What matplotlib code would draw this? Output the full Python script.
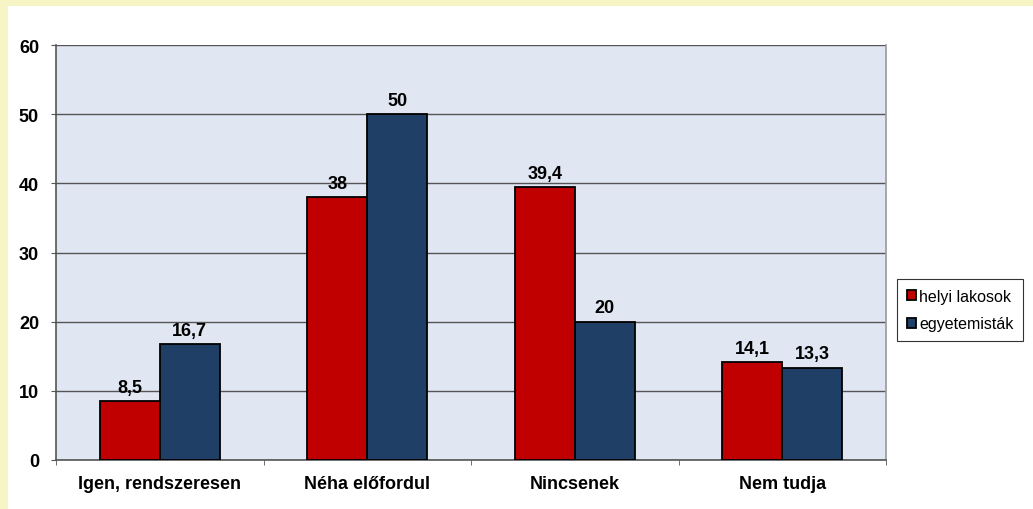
import numpy as np
import matplotlib.pyplot as plt
from matplotlib.patches import Rectangle

categories = ["Igen, rendszeresen", "Néha előfordul", "Nincsenek", "Nem tudja"]
helyi = [8.5, 38, 39.4, 14.1]
egyetem = [16.7, 50, 20, 13.3]
helyi_labels = ["8,5", "38", "39,4", "14,1"]
egyetem_labels = ["16,7", "50", "20", "13,3"]
series_names = ["helyi lakosok", "egyetemisták"]

plt.rcParams['font.family'] = ['Liberation Sans', 'DejaVu Sans']

fig = plt.figure(figsize=(10.33, 5.10), dpi=100)
# sárgás keret fent és balra
fig.patches.append(Rectangle((0, 0), 1, 1, transform=fig.transFigure,
                             facecolor="#F7F4C6", edgecolor="none", zorder=-2))
fig.patches.append(Rectangle((8 / 1033, 0), 1, 1 - 7 / 510, transform=fig.transFigure,
                             facecolor="white", edgecolor="none", zorder=-1))

ax = fig.add_axes([56 / 1033, 1 - 461 / 510, 830 / 1033, 415 / 510])
ax.set_facecolor("#E0E6F2")

x = np.arange(len(categories))
w = 0.29
red = "#C00000"
blue = "#1F3F66"
fs = 13
b1 = ax.bar(x - w / 2, helyi, w, color=red, edgecolor="black", linewidth=1.3,
            label=series_names[0], zorder=3)
b2 = ax.bar(x + w / 2, egyetem, w, color=blue, edgecolor="black", linewidth=1.3,
            label=series_names[1], zorder=3)

for rect, lab in zip(b1, helyi_labels):
    ax.annotate(lab, (rect.get_x() + rect.get_width() / 2, rect.get_height()),
                xytext=(0, 4), textcoords="offset points", ha="center", va="bottom",
                fontsize=fs, fontweight="bold")
for rect, lab in zip(b2, egyetem_labels):
    ax.annotate(lab, (rect.get_x() + rect.get_width() / 2, rect.get_height()),
                xytext=(0, 4), textcoords="offset points", ha="center", va="bottom",
                fontsize=fs, fontweight="bold")

ax.set_xlim(-0.5, len(categories) - 0.5)
ax.set_ylim(0, 60)
ax.set_yticks(range(0, 61, 10))
ax.yaxis.grid(True, color="#555555", linewidth=1.0, zorder=0)
ax.set_axisbelow(True)

ax.set_xticks(x)
ax.set_xticklabels(categories, fontsize=fs, fontweight="bold")
ax.tick_params(axis="x", length=0, pad=11)
ax.set_xticks(np.arange(-0.5, len(categories), 1), minor=True)
ax.tick_params(axis="x", which="minor", length=3.6, color="#555555")
ax.tick_params(axis="y", length=3.6, color="#555555", pad=8.6)
for t in ax.get_yticklabels():
    t.set_fontsize(fs)
    t.set_fontweight("bold")

for s in ["left", "bottom"]:
    ax.spines[s].set_color("#555555")
    ax.spines[s].set_linewidth(1.2)
ax.spines["right"].set_color("#999999")
ax.spines["right"].set_linewidth(1.2)
ax.spines["top"].set_visible(False)

leg = fig.legend(handles=[b1, b2], labels=series_names,
                 loc="upper left", bbox_to_anchor=(897 / 1033, 1 - 280 / 510),
                 frameon=True, fancybox=False, edgecolor="black", fontsize=11.5,
                 handlelength=0.6, handleheight=0.6, handletextpad=0.2,
                 borderpad=0.6, labelspacing=0.8, borderaxespad=0)
leg.get_frame().set_linewidth(0.8)

fig.savefig("out.png", dpi=100)
